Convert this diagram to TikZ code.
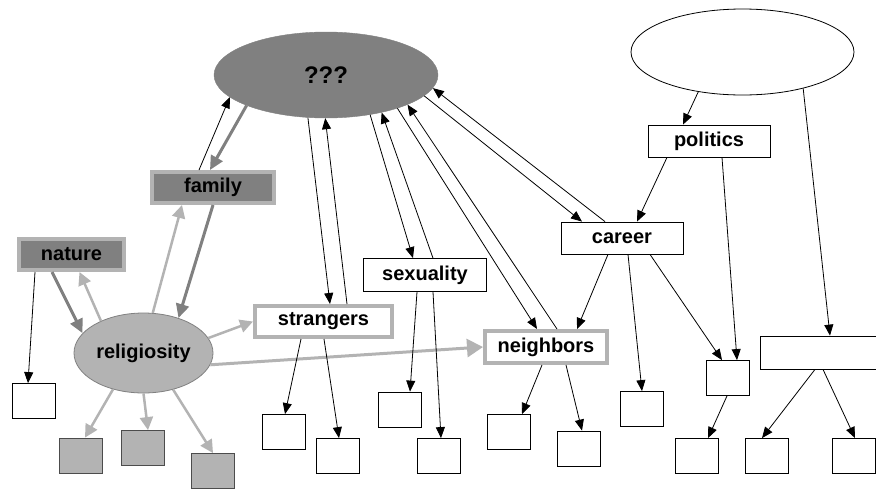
\documentclass[tikz,border=0pt]{standalone}
\usepackage{fontspec}
\setmainfont{Liberation Sans}
\usetikzlibrary{arrows.meta,shapes.geometric}
\definecolor{lg}{HTML}{B3B3B3}
\definecolor{dg}{HTML}{808080}
\tikzset{
  lbl/.style={font=\bfseries\fontsize{20}{24}\selectfont, inner sep=0pt},
  wbox/.style={lbl, draw=black, line width=0.8pt, fill=white, rectangle},
  gframe/.style={lbl, draw=lg, line width=4pt, fill=white, rectangle},
  dframe/.style={lbl, draw=lg, line width=4pt, fill=dg, rectangle},
  sbox/.style={draw=black, line width=0.8pt, fill=white, minimum width=43pt, minimum height=35pt, inner sep=0pt},
  gbox/.style={sbox, fill=lg, draw=black!70},
  arr/.style={draw=black, line width=0.8pt, -{Triangle[length=11pt,width=9pt]}},
  lgarr/.style={draw=lg, line width=2.5pt, -{Triangle[length=13pt,width=13pt]}},
  lgbig/.style={draw=lg, line width=3pt, -{Triangle[length=16pt,width=18pt]}},
  dgarr/.style={draw=dg, line width=3pt, -{Triangle[length=14pt,width=13pt]}},
}
\begin{document}
\begin{tikzpicture}[x=1pt,y=-1pt]
\useasboundingbox (0,0) rectangle (876,490);
\clip (0,0) rectangle (876,490);
% ellipses
\node[ellipse, fill=dg, draw=dg, minimum width=224pt, minimum height=86pt, inner sep=0pt,
      font=\bfseries\fontsize{24}{28}\selectfont] (q) at (326,75) {???};
\node[ellipse, fill=white, draw=black, line width=0.8pt, minimum width=223pt, minimum height=86pt] (top) at (742.5,52) {};
\node[ellipse, fill=lg, draw=dg, line width=0.8pt, minimum width=139pt, minimum height=80pt, lbl] (rel) at (143.5,353) {religiosity};
% labelled boxes
\node[dframe, minimum width=122pt, minimum height=31pt] (fam) at (213,187.5) {family};
\node[dframe, minimum width=105pt, minimum height=31pt] (nat) at (71.5,254.5) {nature};
\node[gframe, minimum width=137pt, minimum height=31pt] (str) at (323.5,321.5) {strangers};
\node[gframe, minimum width=122pt, minimum height=32pt] (nei) at (546,347) {neighbors};
\node[wbox, minimum width=123pt, minimum height=33pt] (sex) at (425,275) {sexuality};
\node[wbox, minimum width=122pt, minimum height=32pt] (pol) at (709,141) {politics};
\node[wbox, minimum width=122pt, minimum height=32pt] (car) at (622,238) {career};
\node[sbox, minimum width=120pt, minimum height=33pt] (wide) at (820,352.5) {};
% small boxes
\node[sbox] (b1) at (34,401) {};
\node[gbox] (g1) at (80.5,455.5) {};
\node[gbox] (g2) at (142.5,448) {};
\node[gbox] (g3) at (213,471) {};
\node[sbox] (b3) at (283.5,432) {};
\node[sbox] (b4) at (338,456) {};
\node[sbox] (b5) at (400,409.5) {};
\node[sbox] (b6) at (439,456) {};
\node[sbox] (b7) at (509,432) {};
\node[sbox] (b8) at (579,448.5) {};
\node[sbox] (b11) at (642,409) {};
\node[sbox] (b12) at (728,378) {};
\node[sbox] (b13) at (697,456) {};
\node[sbox] (b14) at (767,456) {};
\node[sbox] (b15) at (854,456) {};
% family / nature / religiosity
\draw[arr] ([xshift=-14pt]fam.north) -- (q.193);
\draw[dgarr] (q.201) -- ([xshift=-3pt]fam.north);
\draw[dgarr] (fam.south) -- (rel.45);
\draw[lgarr] (rel.77) -- ([xshift=-31pt]fam.south);
\draw[lgarr] (rel.143) -- ([xshift=8pt]nat.south);
\draw[dgarr] ([xshift=-19.5pt]nat.south) -- (rel.162);
\draw[arr] ([xshift=-36.5pt]nat.south) -- ([xshift=-6pt]b1.north);
\draw[lgarr] (rel.13) -- (str.west);
\draw[lgbig] (rel.350) -- (nei.west);
\draw[lgarr] (rel.230) -- ([xshift=4.5pt]g1.north);
\draw[lgarr] (rel.270) -- ([xshift=5.5pt]g2.north);
\draw[lgarr] (rel.309) -- (g3.north);
% ??? links
\draw[arr] (q.247) -- ([xshift=6.5pt]str.north);
\draw[arr] ([xshift=23.5pt]str.north) -- (q.269);
\draw[arr] (q.318) -- ([xshift=-12pt]sex.north);
\draw[arr] ([xshift=8pt]sex.north) -- (q.326);
\draw[arr] (q.335) -- ([xshift=-9pt]nei.north);
\draw[arr] ([xshift=11pt]nei.north) -- (q.340);
\draw[arr] (q.348) -- ([xshift=-40pt]car.north);
\draw[arr] ([xshift=-17pt]car.north) -- (q.353);
% right side
\draw[arr] (top.222) -- ([xshift=-26pt]pol.north);
\draw[arr] ([xshift=-42pt]pol.south) -- ([xshift=15pt]car.north);
\draw[arr] ([xshift=13pt]pol.south) -- ([xshift=9pt]b12.north);
\draw[arr] (top.329) -- ([xshift=10pt]wide.north);
\draw[arr] ([xshift=-14pt]car.south) -- ([xshift=31pt]nei.north);
\draw[arr] ([xshift=6pt]car.south) -- (b11.north);
\draw[arr] ([xshift=28pt]car.south) -- ([xshift=-6pt]b12.north);
\draw[arr] ([xshift=-1pt]b12.south) -- ([xshift=11pt]b13.north);
\draw[arr] ([xshift=-5pt]wide.south) -- ([xshift=-5pt]b14.north);
\draw[arr] ([xshift=3pt]wide.south) -- ([xshift=1pt]b15.north);
% children
\draw[arr] ([xshift=-22.5pt]str.south) -- ([xshift=1.5pt]b3.north);
\draw[arr] ([xshift=0.5pt]str.south) -- ([xshift=1pt]b4.north);
\draw[arr] ([xshift=-8pt]sex.south) -- ([xshift=10pt]b5.north);
\draw[arr] ([xshift=8pt]sex.south) -- ([xshift=2pt]b6.north);
\draw[arr] ([xshift=-4pt]nei.south) -- ([xshift=13pt]b7.north);
\draw[arr] ([xshift=20pt]nei.south) -- ([xshift=3pt]b8.north);
\end{tikzpicture}
\end{document}
